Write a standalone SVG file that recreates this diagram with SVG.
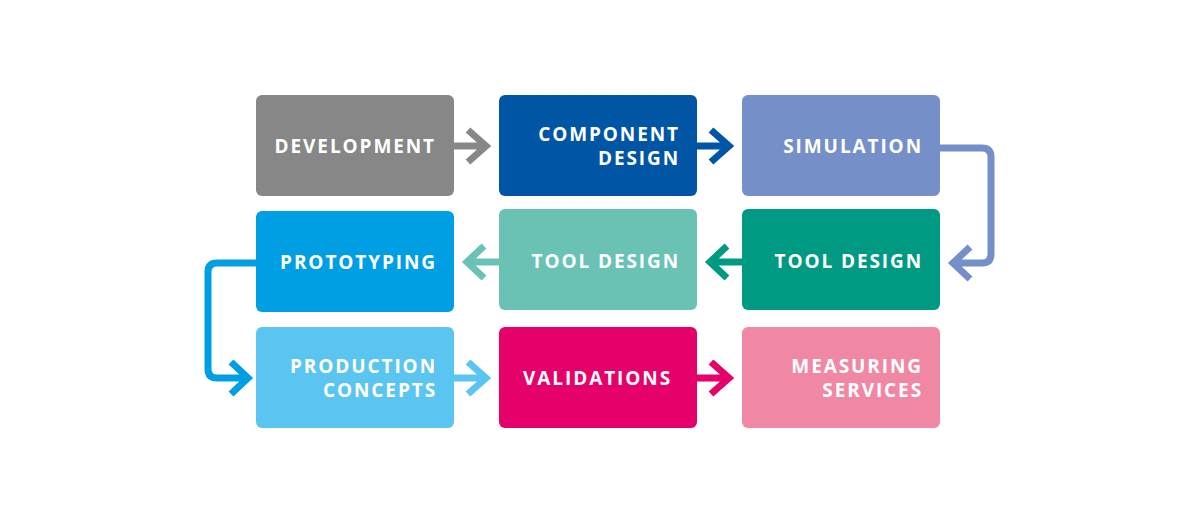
<svg xmlns="http://www.w3.org/2000/svg" width="1199" height="524" viewBox="0 0 1199 524">
<style>
.t{font-family:"Open Sans","Liberation Sans",sans-serif;font-weight:700;font-size:19px;fill:#fff;letter-spacing:1.9px;text-anchor:end}
.a{fill:none;stroke-width:7;stroke-linejoin:miter;stroke-linecap:butt}
</style>
<rect width="1199" height="524" fill="#fff"/>
<g id="connectors">
<path class="a" stroke="#878787" d="M454 146H487M468 130L486 146L468 162"/>
<path class="a" stroke="#0055a4" d="M697 146H730M711 130L729 146L711 162"/>
<path class="a" stroke="#7590c8" d="M940 148H982Q991 148 991 157V254Q991 263 982 263H954M970 247L953 263L970 279"/>
<path class="a" stroke="#009a83" d="M742 262H710M727 246L710 262L727 278"/>
<path class="a" stroke="#6ac2b5" d="M499 262H467M484 246L467 262L484 278"/>
<path class="a" stroke="#009fe3" d="M256 263H217Q208 263 208 272V369Q208 378 217 378H247M231 362L248 378L231 394"/>
<path class="a" stroke="#5bc5f2" d="M454 378H487M468 362L486 378L468 394"/>
<path class="a" stroke="#e5006a" d="M697 378H730M711 362L729 378L711 394"/>
</g>
<g id="development"><rect x="256" y="95" width="198" height="101" rx="6" fill="#878787"/><text class="t" x="436" y="153">DEVELOPMENT</text></g>
<g id="component-design"><rect x="499" y="95" width="198" height="101" rx="6" fill="#0055a4"/><text class="t" x="680" y="141">COMPONENT</text><text class="t" x="680" y="165">DESIGN</text></g>
<g id="simulation"><rect x="742" y="95" width="198" height="101" rx="6" fill="#7590c8"/><text class="t" x="923" y="153">SIMULATION</text></g>
<g id="prototyping"><rect x="256" y="211" width="198" height="101" rx="6" fill="#009fe3"/><text class="t" x="437" y="269">PROTOTYPING</text></g>
<g id="tool-design-2"><rect x="499" y="209" width="198" height="101" rx="6" fill="#6ac2b5"/><text class="t" x="680" y="268">TOOL DESIGN</text></g>
<g id="tool-design-1"><rect x="742" y="209" width="198" height="101" rx="6" fill="#009a83"/><text class="t" x="923" y="268">TOOL DESIGN</text></g>
<g id="production-concepts"><rect x="256" y="327" width="198" height="101" rx="6" fill="#5bc5f2"/><text class="t" x="437" y="373">PRODUCTION</text><text class="t" x="437" y="397">CONCEPTS</text></g>
<g id="validations"><rect x="499" y="327" width="198" height="101" rx="6" fill="#e5006a"/><text class="t" x="672" y="385">VALIDATIONS</text></g>
<g id="measuring-services"><rect x="742" y="327" width="198" height="101" rx="6" fill="#f088a5"/><text class="t" x="923" y="373">MEASURING</text><text class="t" x="923" y="397">SERVICES</text></g>
</svg>
